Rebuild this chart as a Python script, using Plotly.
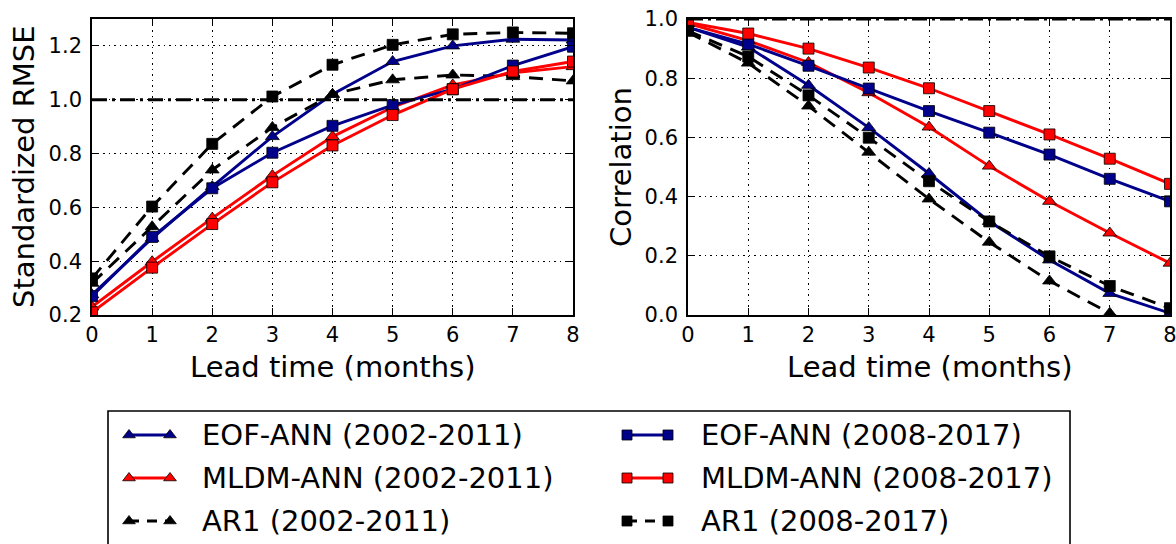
import plotly.graph_objects as go

# ---------------- data ----------------
lead_time = [0, 1, 2, 3, 4, 5, 6, 7, 8]
x_tick_vals = [0, 1, 2, 3, 4, 5, 6, 7, 8]
rmse_tick_vals = [0.2, 0.4, 0.6, 0.8, 1.0, 1.2]
corr_tick_vals = [0.0, 0.2, 0.4, 0.6, 0.8, 1.0]

rmse_eof_0211 = [0.275, 0.485, 0.677, 0.863, 1.02, 1.142, 1.2, 1.225, 1.222]
rmse_mldm_0211 = [0.23, 0.398, 0.56, 0.718, 0.863, 0.972, 1.055, 1.1, 1.123]
rmse_ar1_0211 = [0.318, 0.528, 0.739, 0.897, 1.02, 1.074, 1.092, 1.086, 1.07]
rmse_eof_0817 = [0.27, 0.49, 0.671, 0.803, 0.903, 0.98, 1.039, 1.127, 1.197]
rmse_mldm_0817 = [0.21, 0.376, 0.538, 0.693, 0.83, 0.943, 1.039, 1.105, 1.142]
rmse_ar1_0817 = [0.336, 0.603, 0.836, 1.012, 1.13, 1.204, 1.243, 1.25, 1.247]

corr_eof_0211 = [0.972, 0.905, 0.776, 0.633, 0.478, 0.316, 0.186, 0.073, 0.006]
corr_mldm_0211 = [0.985, 0.927, 0.853, 0.751, 0.635, 0.503, 0.384, 0.277, 0.175]
corr_ar1_0211 = [0.955, 0.851, 0.706, 0.55, 0.392, 0.246, 0.115, 0.006, -0.09]
corr_eof_0817 = [0.972, 0.915, 0.842, 0.765, 0.689, 0.616, 0.542, 0.46, 0.384]
corr_mldm_0817 = [0.988, 0.951, 0.9, 0.836, 0.766, 0.689, 0.61, 0.528, 0.443]
corr_ar1_0817 = [0.96, 0.873, 0.742, 0.599, 0.452, 0.316, 0.198, 0.098, 0.023]

reference_level_rmse = 1.0
reference_level_corr = 1.0

series_labels = [
    "EOF-ANN (2002-2011)",
    "MLDM-ANN (2002-2011)",
    "AR1 (2002-2011)",
    "EOF-ANN (2008-2017)",
    "MLDM-ANN (2008-2017)",
    "AR1 (2008-2017)",
]
rmse_series = [rmse_eof_0211, rmse_mldm_0211, rmse_ar1_0211,
               rmse_eof_0817, rmse_mldm_0817, rmse_ar1_0817]
corr_series = [corr_eof_0211, corr_mldm_0211, corr_ar1_0211,
               corr_eof_0817, corr_mldm_0817, corr_ar1_0817]

x_title = "Lead time (months)"
rmse_title = "Standardized RMSE"
corr_title = "Correlation"

# ---------------- styles ----------------
BLUE = "#00008B"
RED = "#FF0000"
BLACK = "#000000"
FONT = "DejaVu Sans"
LW = 2.9
styles = [
    dict(color=BLUE, dash="solid", symbol="triangle-up"),
    dict(color=RED, dash="solid", symbol="triangle-up"),
    dict(color=BLACK, dash="14px,9px", symbol="triangle-up"),
    dict(color=BLUE, dash="solid", symbol="square"),
    dict(color=RED, dash="solid", symbol="square"),
    dict(color=BLACK, dash="14px,9px", symbol="square"),
]

W, H = 1176, 544


def px(x):
    return x / W


def py(y):
    return 1 - y / H


fig = go.Figure()


def add_series(ys, st, xa, ya):
    size = 12 if st["symbol"] == "triangle-up" else 11
    fig.add_trace(go.Scatter(
        x=lead_time, y=ys, mode="lines+markers",
        line=dict(color=st["color"], width=LW, dash=st["dash"]),
        marker=dict(symbol=st["symbol"], size=size, color=st["color"],
                    line=dict(color="black", width=0.8)),
        xaxis=xa, yaxis=ya, showlegend=False, cliponaxis=True,
    ))


for ys, st in zip(rmse_series, styles):
    add_series(ys, st, "x", "y")
for ys, st in zip(corr_series, styles):
    add_series(ys, st, "x2", "y2")

# horizontal reference lines (dash-dot)
for xa, ya, lvl in [("x", "y", reference_level_rmse), ("x2", "y2", reference_level_corr)]:
    fig.add_trace(go.Scatter(
        x=[lead_time[0], lead_time[-1]], y=[lvl, lvl], mode="lines",
        line=dict(color="black", width=LW, dash="15px,5px,3px,5px"),
        xaxis=xa, yaxis=ya, showlegend=False, hoverinfo="skip",
    ))

axis_common = dict(
    showline=True, linecolor="black", linewidth=1.6, mirror="ticks",
    ticks="inside", ticklen=7, tickwidth=1.3, tickcolor="black",
    showgrid=True, gridcolor="black", gridwidth=1, griddash="1.5px,4px",
    zeroline=False, tickfont=dict(family=FONT, size=21, color="black"),
    automargin=False, ticklabeloverflow="allow",
)

fig.update_layout(
    width=W, height=H, autosize=False,
    margin=dict(l=0, r=0, t=0, b=0, pad=0, autoexpand=False),
    paper_bgcolor="white", plot_bgcolor="rgba(0,0,0,0)",
    font=dict(family=FONT, color="black"),
    showlegend=False,
    xaxis=dict(domain=[px(92), px(573)], range=[0, 8], tickvals=x_tick_vals,
               anchor="y", ticklabelstandoff=0, **axis_common),
    yaxis=dict(domain=[py(315), py(19)], range=[0.2, 1.3], tickvals=rmse_tick_vals,
               tickformat=".1f", anchor="x", ticklabelstandoff=4, **axis_common),
    xaxis2=dict(domain=[px(688), px(1170)], range=[0, 8], tickvals=x_tick_vals,
                anchor="y2", ticklabelstandoff=0, **axis_common),
    yaxis2=dict(domain=[py(315), py(19)], range=[0, 1], tickvals=corr_tick_vals,
                tickformat=".1f", anchor="x2", ticklabelstandoff=4, **axis_common),
    xaxis3=dict(domain=[0, 1], range=[0, W], visible=False, anchor="y3",
                fixedrange=True, automargin=False),
    yaxis3=dict(domain=[0, py(408)], range=[H, 408], visible=False, anchor="x3",
                fixedrange=True, automargin=False),
)

# axis titles
ann = []
title_font = dict(family=FONT, size=29, color="black")
ann.append(dict(text=x_title, x=px((92 + 573) / 2), y=py(367), xref="paper", yref="paper",
                showarrow=False, font=title_font, xanchor="center", yanchor="middle"))
ann.append(dict(text=x_title, x=px((688 + 1170) / 2), y=py(367), xref="paper", yref="paper",
                showarrow=False, font=title_font, xanchor="center", yanchor="middle"))
ann.append(dict(text=rmse_title, x=px(24), y=py(167), xref="paper", yref="paper",
                showarrow=False, textangle=-90, font=title_font,
                xanchor="center", yanchor="middle"))
ann.append(dict(text=corr_title, x=px(621), y=py(167), xref="paper", yref="paper",
                showarrow=False, textangle=-90, font=title_font,
                xanchor="center", yanchor="middle"))

# ---------------- legend (matplotlib-style, 2 columns) ----------------
legend_cols = [(129, 170, 200), (627, 668, 699)]
legend_rows = [435, 478, 521]
for i, (label, st) in enumerate(zip(series_labels, styles)):
    col, row = divmod(i, 3)
    x0, x1, xt = legend_cols[col]
    yr = legend_rows[row]
    size = 11 if st["symbol"] == "triangle-up" else 10
    fig.add_trace(go.Scatter(
        x=[x0, x1], y=[yr, yr], mode="lines+markers",
        line=dict(color=st["color"], width=LW,
                  dash=st["dash"] if st["dash"] == "solid" else "10px,8px"),
        marker=dict(symbol=st["symbol"], size=size, color=st["color"],
                    line=dict(color="black", width=0.8)),
        xaxis="x3", yaxis="y3", showlegend=False, hoverinfo="skip",
    ))
    ann.append(dict(text=label, x=xt, y=yr, xref="x3", yref="y3", showarrow=False,
                    xanchor="left", yanchor="middle", font=title_font))

fig.update_layout(annotations=ann)
fig.add_shape(type="rect", xref="paper", yref="paper",
              x0=px(108), x1=px(1070), y0=py(560), y1=py(411),
              line=dict(color="black", width=1.6), fillcolor="rgba(0,0,0,0)")

fig.write_html(
    "out.html",
    config={"responsive": False, "displayModeBar": False},
    post_script="document.body.style.margin='0';document.body.style.overflow='hidden';",
)
